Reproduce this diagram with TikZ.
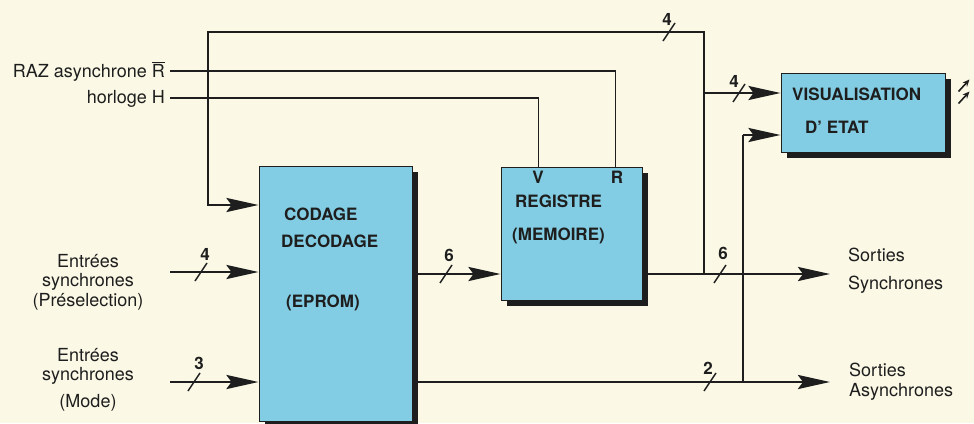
\documentclass[tikz,border=0pt]{standalone}
\usepackage{fontspec}
\setmainfont{TeX Gyre Heros}
\usetikzlibrary{arrows.meta,shadows,calc}
\definecolor{paper}{HTML}{FBF9E6}
\definecolor{boxblue}{HTML}{82CDE3}
\definecolor{ink}{HTML}{1E1E1E}
\tikzset{
  block/.style={draw=ink, line width=1pt, fill=boxblue, inner sep=0pt,
    drop shadow={shadow xshift=6pt, shadow yshift=-6pt, fill=ink, opacity=1}},
  busline/.style={draw=ink, line width=2.8pt},
  sigline/.style={draw=ink, line width=1.8pt},
  slashline/.style={draw=ink, line width=1.5pt},
  arr/.style={-{Stealth[length=32pt,width=14pt,inset=5pt]}},
  ledline/.style={draw=ink, line width=1.6pt, -{Stealth[length=7pt,width=6pt]}},
  btxt/.style={inner sep=0pt, anchor=base west, text=ink,
    font=\fontsize{17}{20}\selectfont\bfseries},
  lab/.style={inner sep=0pt, text=ink, font=\fontsize{18}{19.5}\selectfont},
  busnum/.style={inner sep=0pt, text=ink, font=\fontsize{17}{20}\selectfont\bfseries}
}
\newcommand{\busmark}[4]{%
  \draw[slashline] (#1) ++(-6,9) -- ++(12,-18);
  \node[busnum] (#4) at (#2) {#3};}

\begin{document}
\begin{tikzpicture}[x=1pt, y=-1pt]
  \fill[paper] (0,0) rectangle (974,423);
  \useasboundingbox (0,0) rectangle (974,423);
  %% blocks
  \node[block, minimum width=153pt, minimum height=255pt] (codage) at (335.5,293.5) {};
  \node[block, minimum width=141pt, minimum height=133pt] (registre) at (571.5,233.5) {};
  \node[block, minimum width=164pt, minimum height=79pt] (visu) at (863,112.5) {};
  %%
  \node[btxt] (tcod) at (284,220) {CODAGE};
  \node[btxt] (tdec) at (281,247) {DECODAGE};
  \node[btxt] (tepr) at (286,307) {(EPROM)};
  \node[btxt] (treg) at (515,207) {REGISTRE};
  \node[btxt] (tmem) at (512,240) {(MEMOIRE)};
  \node[btxt, anchor=base] (tv) at (538,183) {V};
  \node[btxt, anchor=base] (tr) at (617,183) {R};
  \node[btxt] (tvis) at (792,100) {VISUALISATION};
  \node[btxt] (teta) at (805,133) {D' ETAT};
  %% free ends and junctions
  \coordinate (raz) at (170,71);
  \coordinate (hor) at (170,98);
  \coordinate (inpre) at (170,272);
  \coordinate (inmode) at (170,382);
  \coordinate (fb) at (208,205);
  \coordinate (looptop) at (208,32);
  \coordinate (ysync) at (0,274);
  \coordinate (jsync) at (704,274);
  \coordinate (jvis) at (704,93);
  \coordinate (outsync) at (830,274);
  \coordinate (outasync) at (830,382);
  \coordinate (jasync) at (743,382);
  \coordinate (jled) at (743,135);
  %% connectors
  \draw[busline,arr] (jsync) -- (jsync |- looptop) -- (looptop) -- (fb) -- (codage.west |- fb);
  \draw[busline,arr] (jvis) -- (visu.west |- jvis);
  \draw[sigline] (raz) -| ([xshift=-27pt]registre.north east);
  \draw[sigline] (hor) -| ([xshift=38pt]registre.north west);
  \draw[busline,arr] (inpre) -- (codage.west |- inpre);
  \draw[busline,arr] (inmode) -- (codage.west |- inmode);
  \draw[busline,arr] (codage.east |- ysync) -- (registre.west |- ysync);
  \draw[busline,arr] (registre.east |- ysync) -- (outsync);
  \draw[busline,arr] (codage.east |- inmode) -- (outasync);
  \draw[sigline] (jasync) -- (jled);
  \draw[busline,arr] (jled) -- (visu.west |- jled);
  %% light
  \draw[ledline] ($(visu.east)+(13,-21)$) -- ++(11,-12);
  \draw[ledline] ($(visu.east)+(13,-9)$) -- ++(11,-12);
  %% bus widths
  \busmark{669,32}{667,19}{4}{n1}
  \busmark{739,93}{734,81}{4}{n2}
  \busmark{201,272}{205,254}{4}{n3}
  \busmark{194,382}{199,363}{3}{n4}
  \busmark{446,274}{449,255}{6}{n5}
  \busmark{720,274}{723,253}{6}{n6}
  \busmark{710,382}{708,368}{2}{n7}
  %% labels
  \node[lab, anchor=base east] (lraz) at (165,77) {RAZ asynchrone $\overline{\hbox{R}}$};
  \node[lab, anchor=base east] (lhor) at (165,103) {horloge H};
  \node[lab, align=center, anchor=base] (lpre) at (88,306) {Entrées\\synchrones\\(Préselection)};
  \node[lab, align=center, anchor=base] (lmode) at (88,407) {Entrées\\synchrones\\[7pt](Mode)};
  \node[lab, align=left, anchor=base west] (lsync) at (848,289) {Sorties\\[8pt]Synchrones};
  \node[lab, align=left, anchor=base west] (lasync) at (849,396) {Sorties\\Asynchrones};
\end{tikzpicture}
\end{document}
